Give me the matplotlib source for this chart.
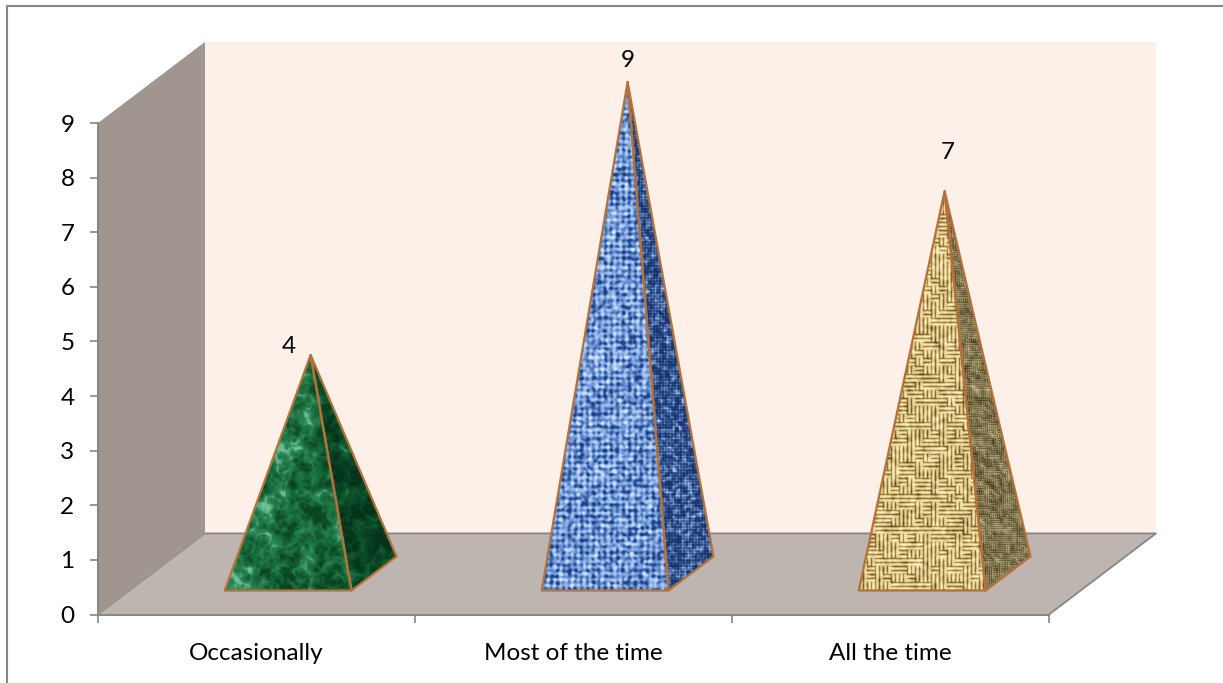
import matplotlib
matplotlib.use("Agg")
import matplotlib.pyplot as plt
import numpy as np
from matplotlib.lines import Line2D
from matplotlib.patches import Polygon

categories = ["Occasionally", "Most of the time", "All the time"]
values = [4, 9, 7]
y_ticks = list(range(10))

# 3D box offset of the back wall, in data units
DEPTH_X = 0.3375
DEPTH_Y = 1.485
BAR_WIDTH = 0.40
BASE_FRONT = 0.296
BASE_BACK = 0.716
GRAY = "#868686"
EDGE = "#B5713A"
LABEL_OFFSETS = [(-22, 9), (0, 21), (3, 39)]  # pixels from the apex


def project(x, y, depth):
    return (x + depth * DEPTH_X, y + depth * DEPTH_Y)


def blur(level, sigma):
    h, w = level.shape
    fy = np.fft.fftfreq(h)[:, None]
    fx = np.fft.fftfreq(w)[None, :]
    kernel = np.exp(-2 * (np.pi * sigma) ** 2 * (fx ** 2 + fy ** 2))
    return np.fft.ifft2(np.fft.fft2(level) * kernel).real


def smooth_noise(rng, h, w, sigma):
    # low-pass filtered noise, scaled to 0..1
    out = blur(rng.standard_normal((h, w)), sigma)
    return (out - out.min()) / (out.max() - out.min())


def colorize(level, stops):
    level = np.clip(level, 0, 1)
    xs = np.linspace(0, 1, len(stops))
    rgb = [matplotlib.colors.to_rgb(c) for c in stops]
    return np.dstack([np.interp(level, xs, [c[k] for c in rgb]) for k in range(3)])


def marble(h, w, seed, stops):
    rng = np.random.default_rng(seed)
    base = 0.4 * smooth_noise(rng, h, w, 7) + 0.35 * smooth_noise(rng, h, w, 3) + 0.25 * smooth_noise(rng, h, w, 1.2)
    veins = 1 - np.abs(2 * smooth_noise(rng, h, w, 4) - 1)
    level = base + 0.14 * veins ** 8
    return colorize((level - 0.37) / 0.42, stops)


def burlap(h, w, seed, period, stops):
    rng = np.random.default_rng(seed)
    yy, xx = np.mgrid[0:h, 0:w]
    grid = 0.5 + 0.25 * np.cos(2 * np.pi * yy / period) + 0.25 * np.cos(2 * np.pi * xx / period)
    mottled = smooth_noise(rng, h, w, 1.1)
    level = 0.75 * grid + 1.9 * mottled - 0.95
    return colorize(blur(level, 0.5), stops)


def basket(h, w, seed, period, stops):
    # strands run either way in small blocks, which gives the maze-like weave
    rng = np.random.default_rng(seed)
    yy, xx = np.mgrid[0:h, 0:w]
    block = period * 2
    flips = rng.integers(0, 2, size=(h // block + 1, w // block + 1))
    across = flips[yy // block, xx // block] == 0
    strand = np.sin(np.pi * np.where(across, yy % period, xx % period) / period)
    level = 0.8 * strand + 0.75 * smooth_noise(rng, h, w, 1.5) - 0.3
    return colorize(blur(level, 0.5), stops)


fig = plt.figure(figsize=(12.23, 6.83), dpi=100, facecolor="white")
plt.rcParams["font.family"] = ["Lato", "DejaVu Sans"]
ax = fig.add_axes([98 / 1223, (683 - 614.5) / 683, 951 / 1223, 491.5 / 683])
ax.set_xlim(-0.5, 2.5)
ax.set_ylim(0, 9)

# chart frame, only the top and left sides are there
fig.add_artist(Line2D([6.5 / 1223, 6.5 / 1223, 1], [0, 1 - 5.5 / 683, 1 - 5.5 / 683],
                      transform=fig.transFigure, color=GRAY, linewidth=1.5))

x0, x1 = ax.get_xlim()
y0, y1 = ax.get_ylim()


def add_plane(corners, color, zorder=1):
    ax.add_patch(Polygon(corners, closed=True, facecolor=color, edgecolor="none",
                         clip_on=False, zorder=zorder))


add_plane([project(x0, y0, 1), project(x1, y0, 1), project(x1, y1, 1), project(x0, y1, 1)], "#FDF0E8")
add_plane([project(x0, y0, 0), project(x0, y0, 1), project(x0, y1, 1), project(x0, y1, 0)], "#A0958F")
add_plane([project(x0, y0, 0), project(x1, y0, 0), project(x1, y0, 1), project(x0, y0, 1)], "#BEB4B0")

# floor outline
back_edge = np.array([project(x0, y0, 1), project(x1, y0, 1), project(x1, y0, 0)])
ax.plot(back_edge[:, 0], back_edge[:, 1], color=GRAY, linewidth=1.3, clip_on=False, zorder=2)
left_edge = np.array([project(x0, y0, 0), project(x0, y0, 1)])
ax.plot(left_edge[:, 0], left_edge[:, 1], color="#96908B", linewidth=1.0, clip_on=False, zorder=2)

green_front = ["#0A4522", "#17693A", "#2C8556", "#6CC096"]
green_side = ["#04321A", "#0A4A27", "#146138", "#3E946A"]
blue_front = ["#1F4486", "#5F88CC", "#9DBDEC", "#D3E4FB"]
blue_side = ["#1A3470", "#33558F", "#6A8CC2", "#A6C2E6"]
tan_front = ["#5A4820", "#A68C52", "#E5CD8C", "#FFF3C8"]
tan_side = ["#423A20", "#6E6340", "#9C9066", "#D0C596"]

textures = [
    (lambda h, w: marble(h, w, 3, green_front), lambda h, w: marble(h, w, 4, green_side)),
    (lambda h, w: burlap(h, w, 5, 6, blue_front), lambda h, w: burlap(h, w, 6, 3, blue_side)),
    (lambda h, w: basket(h, w, 7, 4, tan_front), lambda h, w: basket(h, w, 8, 2, tan_side)),
]


def add_face(corners, make_texture):
    # paint a texture over the bounding box and clip it to the pyramid face
    corners = np.array(corners)
    left, right = corners[:, 0].min(), corners[:, 0].max()
    low, high = corners[:, 1].min(), corners[:, 1].max()
    w = int(abs(ax.transData.transform((right, 0))[0] - ax.transData.transform((left, 0))[0])) + 1
    h = int(abs(ax.transData.transform((0, high))[1] - ax.transData.transform((0, low))[1])) + 1
    im = ax.imshow(make_texture(h, w), extent=(left, right, low, high), aspect="auto",
                   interpolation="bilinear", zorder=3)
    outline = Polygon(corners, closed=True, facecolor="none", edgecolor=EDGE, linewidth=1.6,
                      joinstyle="round", clip_on=False, zorder=4)
    ax.add_patch(outline)
    im.set_clip_path(outline)
    im.set_clip_box(fig.bbox)


# pyramids: square base on the floor, apex above the centre of the base
for i, value in enumerate(values):
    front_l = project(i - BAR_WIDTH / 2, 0, BASE_FRONT)
    front_r = project(i + BAR_WIDTH / 2, 0, BASE_FRONT)
    back_r = project(i + BAR_WIDTH / 2, 0, BASE_BACK)
    apex = project(i, value, (BASE_FRONT + BASE_BACK) / 2)
    add_face([front_r, back_r, apex], textures[i][1])
    add_face([front_l, front_r, apex], textures[i][0])
    ax.annotate(str(value), xy=apex, xytext=LABEL_OFFSETS[i], textcoords="offset pixels",
                ha="center", va="center", fontsize=17.5, color="black", annotation_clip=False, zorder=5)

ax.set_xlim(x0, x1)
ax.set_ylim(y0, y1)
ax.patch.set_visible(False)
for side in ("top", "right"):
    ax.spines[side].set_visible(False)
for side in ("left", "bottom"):
    ax.spines[side].set_color(GRAY)
    ax.spines[side].set_linewidth(1.4)
    ax.spines[side].set_zorder(6)

ax.set_yticks(y_ticks)
ax.set_xticks([-0.5, 0.5, 1.5, 2.5])
ax.set_xticklabels([])
ax.set_xticks(range(len(categories)), categories, minor=True)
ax.tick_params(axis="x", which="major", length=6, width=1.2, color=GRAY)
ax.tick_params(axis="x", which="minor", length=0, pad=20.5, labelsize=17.5)
ax.tick_params(axis="y", length=6, width=1.2, color=GRAY, pad=11, labelsize=17.5)

fig.savefig("out.png", dpi=100)
